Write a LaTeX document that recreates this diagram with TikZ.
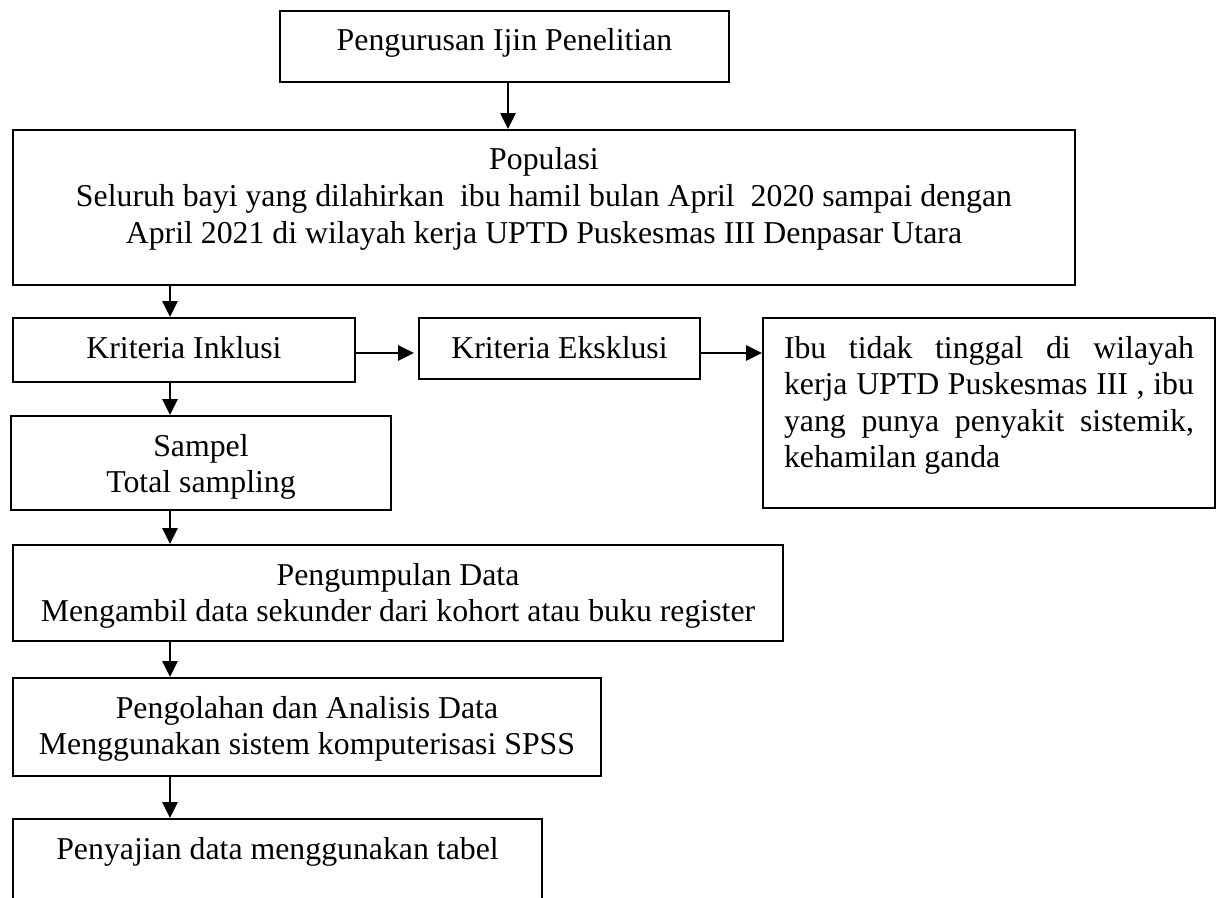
\documentclass[tikz,border=0pt]{standalone}
\usepackage{fontspec}
\setmainfont{Liberation Serif}
\usetikzlibrary{arrows.meta}

\newlength{\px}
\setlength{\px}{0.3774pt}
% box content: width and height in px, text starts at the top
\newcommand{\isi}[4][\centering]{%
  \parbox[c][#3\px][t]{#2\px}{\vspace*{14.4\px}#1\strut #4}}

\begin{document}
\begin{tikzpicture}[x=0.3774pt,y=-0.3774pt,->,>={Triangle[length=6pt,width=5.7pt]},
  line width=0.75pt,
  kotak/.style={draw,rectangle,inner sep=0pt,anchor=north west,
  font={\fontsize{12}{13.8}\selectfont}}]

  \path[use as bounding box] (0,0) rectangle (1227,897);
  \clip (0,0) rectangle (1227,897);

  \coordinate (tengah) at (508,0);
  \coordinate (lajur) at (170,0);
  \coordinate (baris) at (0,353);

  \node[kotak] (izin) at (279,10) {\isi{449}{71}{Pengurusan Ijin Penelitian}};
  \node[kotak] (populasi) at (12,129) {\isi{1062}{155}{Populasi\\
    Seluruh bayi yang dilahirkan~ ibu hamil bulan April~ 2020 sampai dengan\\
    April 2021 di wilayah kerja UPTD Puskesmas III Denpasar Utara}};
  \node[kotak] (inklusi) at (12,317) {\isi{342}{64}{Kriteria Inklusi}};
  \node[kotak] (eksklusi) at (418,317) {\isi{281}{61}{Kriteria Eksklusi}};
  \node[kotak] (rincian) at (762,317) {\isi[\leftskip=21\px\rightskip=21\px]{452}{190}{%
    Ibu tidak tinggal di wilayah\linebreak kerja UPTD Puskesmas III , ibu\linebreak
    yang punya penyakit sistemik,\linebreak kehamilan ganda}};
  \node[kotak] (sampel) at (10,415) {\isi{380}{94}{Sampel\\ Total sampling}};
  \node[kotak] (kumpul) at (12,544) {\isi{770}{96}{Pengumpulan Data\\
    Mengambil data sekunder dari kohort atau buku register}};
  \node[kotak] (olah) at (12,677) {\isi{588}{98}{Pengolahan dan Analisis Data\\
    Menggunakan sistem komputerisasi SPSS}};
  \node[kotak] (saji) at (12,818) {\isi{529}{100}{Penyajian data menggunakan tabel}};

  \path
    (izin.south -| tengah) edge (populasi.north -| tengah)
    (populasi.south -| lajur) edge (inklusi.north -| lajur)
    (inklusi.east |- baris) edge [shorten >=1.5pt] (eksklusi.west |- baris)
    (eksklusi.east |- baris) edge (rincian.west |- baris)
    (inklusi.south -| lajur) edge (sampel.north -| lajur)
    (sampel.south -| lajur) edge (kumpul.north -| lajur)
    (kumpul.south -| lajur) edge (olah.north -| lajur)
    (olah.south -| lajur) edge (saji.north -| lajur);

\end{tikzpicture}
\end{document}
